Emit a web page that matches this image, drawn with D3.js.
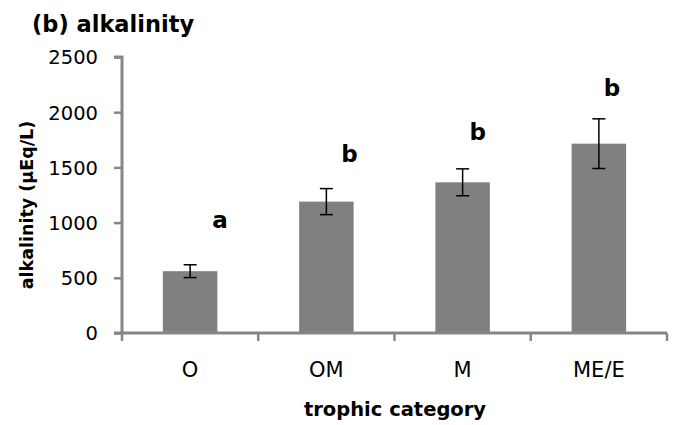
<!DOCTYPE html>
<html>
<head>
<meta charset="utf-8">
<script src="https://cdn.jsdelivr.net/npm/d3@7"></script>
<style>
  html, body { margin: 0; padding: 0; background: #fff; }
  svg { display: block; }
  text { font-family: "DejaVu Sans", sans-serif; fill: #000; }
</style>
</head>
<body>
<svg id="chart" width="675" height="425"></svg>
<script>
// ---- data ----
const categories = ["O", "OM", "M", "ME/E"];
const means = [560, 1190, 1365, 1715];
const errors = [58, 118, 122, 225];
const letters = ["a", "b", "b", "b"];
const letterLevels = [951, 1549, 1748, 2147];
const yTicks = [0, 500, 1000, 1500, 2000, 2500];

const title = "(b) alkalinity";
const xTitle = "trophic category";
const yTitle = "alkalinity (\u00b5Eq/L)";

// ---- layout ----
(function () {
const svg = d3.select("#chart");
const mLeft = 122, mRight = 667, mTop = 57, mBottom = 333;
const axisColor = "#868686";

const xOuter = d3.scaleBand().domain(categories).range([mLeft, mRight]).padding(0);
const x = xOuter.copy().paddingInner(0.6).paddingOuter(0.3);
const y = d3.scaleLinear().domain([0, 2500]).range([mBottom, mTop]);

// bars
svg.append("g").selectAll("rect").data(categories).join("rect")
  .attr("x", d => x(d))
  .attr("width", x.bandwidth())
  .attr("y", (d, i) => y(means[i]))
  .attr("height", (d, i) => y(0) - y(means[i]))
  .attr("fill", "#808080");

// error bars
const eb = svg.append("g").attr("stroke", "#000").attr("stroke-width", 1.5);
categories.forEach((c, i) => {
  const cx = x(c) + x.bandwidth() / 2;
  const y1 = y(means[i] + errors[i]), y2 = y(means[i] - errors[i]);
  eb.append("line").attr("x1", cx).attr("x2", cx).attr("y1", y1).attr("y2", y2);
  eb.append("line").attr("x1", cx - 6.5).attr("x2", cx + 6.5).attr("y1", y1).attr("y2", y1);
  eb.append("line").attr("x1", cx - 6.5).attr("x2", cx + 6.5).attr("y1", y2).attr("y2", y2);
});

// significance letters
const letterDx = [30, 23, 15, 13];
svg.append("g").selectAll("text").data(letters).join("text")
  .attr("x", (d, i) => x(categories[i]) + x.bandwidth() / 2 + letterDx[i])
  .attr("y", (d, i) => y(letterLevels[i]))
  .attr("text-anchor", "middle")
  .attr("font-weight", "bold")
  .attr("font-size", 23)
  .text(d => d);

// y axis
const yAxis = svg.append("g").attr("transform", `translate(${mLeft},0)`)
  .call(d3.axisLeft(y).tickValues(yTicks).tickSize(8).tickPadding(16).tickFormat(d3.format("d")));
yAxis.select(".domain").attr("stroke", axisColor).attr("stroke-width", 3)
  .attr("d", `M-8,${mTop}H0V${mBottom}`);
yAxis.selectAll(".tick line").attr("stroke", axisColor).attr("stroke-width", 2.5);
yAxis.selectAll(".tick text").attr("font-size", 19.5).attr("fill", "#000").attr("dy", "0.35em");

// x axis
const xAxis = svg.append("g").attr("transform", `translate(0,${mBottom})`);
xAxis.append("line").attr("x1", mLeft - 8).attr("x2", mRight).attr("y1", 0).attr("y2", 0)
  .attr("stroke", axisColor).attr("stroke-width", 3);
const bounds = categories.map(c => xOuter(c)).concat([mRight]);
xAxis.selectAll("line.tk").data(bounds).join("line").attr("class", "tk")
  .attr("x1", d => d).attr("x2", d => d).attr("y1", 0).attr("y2", 8)
  .attr("stroke", axisColor).attr("stroke-width", 2.5);
xAxis.selectAll("text").data(categories).join("text")
  .attr("x", d => xOuter(d) + xOuter.bandwidth() / 2)
  .attr("y", 44)
  .attr("text-anchor", "middle")
  .attr("font-size", 21)
  .text(d => d);

// titles
svg.append("text").attr("x", 32).attr("y", 32)
  .attr("font-weight", "bold").attr("font-size", 22.5).text(title);
svg.append("text").attr("x", 395).attr("y", 416).attr("text-anchor", "middle")
  .attr("font-weight", "bold").attr("font-size", 19.5).text(xTitle);
svg.append("text").attr("transform", "translate(33,205) rotate(-90)")
  .attr("text-anchor", "middle")
  .attr("font-weight", "bold").attr("font-size", 17.5).text(yTitle);
})();
</script>
</body>
</html>
